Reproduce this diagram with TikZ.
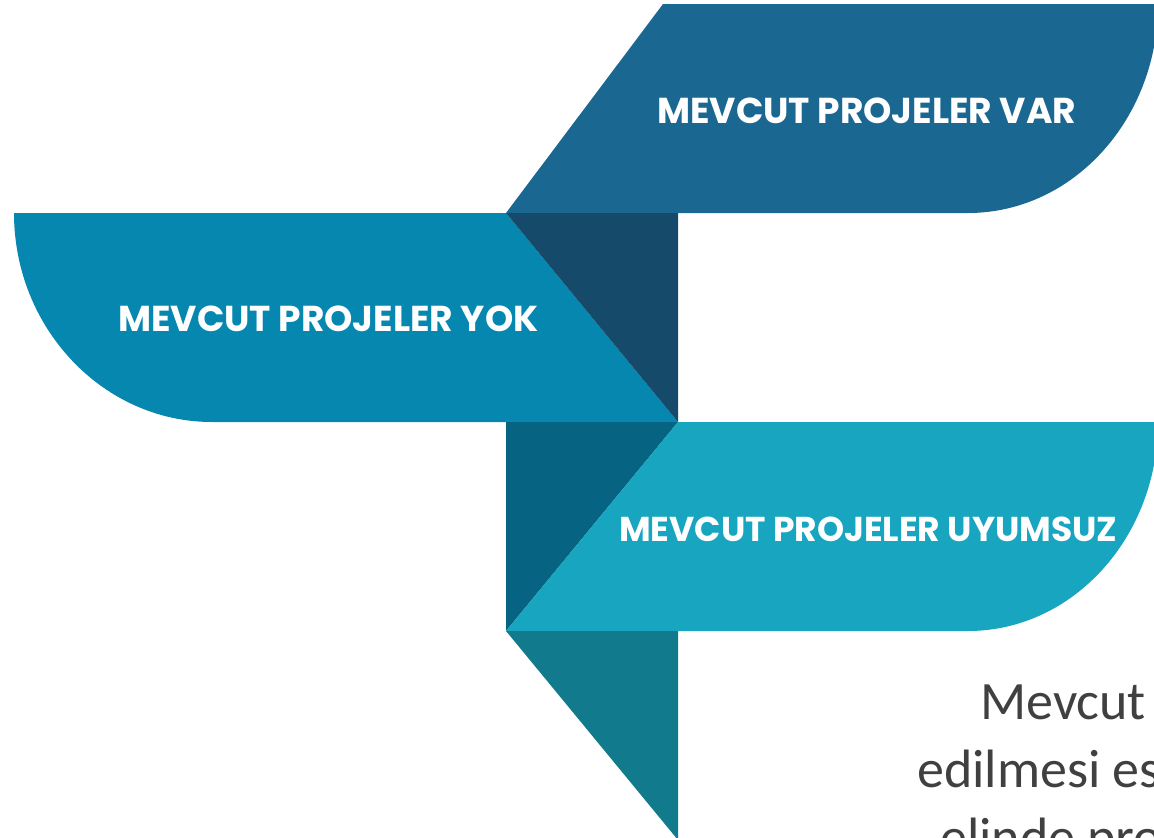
\documentclass[tikz,border=0pt]{standalone}
\usepackage{fontspec}
\setmainfont{Carlito}
\newfontfamily\bandfont{Poppins}
\definecolor{varblue}{HTML}{1A6892}
\definecolor{yokblue}{HTML}{0587B0}
\definecolor{navyfold}{HTML}{154A6B}
\definecolor{uyumblue}{HTML}{17A5C0}
\definecolor{deepfold}{HTML}{066482}
\definecolor{tealfold}{HTML}{127A8D}
\definecolor{bodygray}{HTML}{404040}

\begin{document}
\begin{tikzpicture}[x=1pt,y=-1pt,
    bandtext/.style={font=\bandfont\bfseries\fontsize{36}{40}\selectfont,text=white,anchor=base west,inner sep=0pt},
    bodytext/.style={font=\fontsize{54}{58}\selectfont,text=bodygray,anchor=base west,inner sep=0pt}]
  \useasboundingbox (0,0) rectangle (1154,838);
  \clip (0,0) rectangle (1154,838);
  \fill[varblue] (663,4) -- (1158,4) .. controls (1158,119) and (1073,213) .. (968,213) -- (506,213) -- cycle;
  \fill[yokblue] (14,213) -- (506,213) -- (678,422) -- (212,422) .. controls (103,422) and (14,328) .. (14,213) -- cycle;
  \fill[navyfold] (506,213) -- (678,213) -- (678,422) -- cycle;
  \fill[deepfold] (506,422) -- (678,422) -- (506,631) -- cycle;
  \fill[uyumblue] (678,422) -- (1158,422) .. controls (1158,537) and (1073,631) .. (968,631) -- (506,631) -- cycle;
  \fill[tealfold] (506,631) -- (678,631) -- (678,840) -- cycle;
  \node[bandtext] (var) at (657,123) {MEVCUT PROJELER VAR};
  \node[bandtext] (yok) at (118,331) {MEVCUT PROJELER YOK};
  \node[bandtext,font=\bandfont\bfseries\fontsize{34.5}{38}\selectfont] (uyum) at (619,541) {MEVCUT PROJELER UYUMSUZ};
  \node[bodytext] (line1) at (980,719) {Mevcut};
  \node[bodytext] (line2) at (917,787) {edilmesi es};
  \node[bodytext] (line3) at (940,855) {elinde pro};
\end{tikzpicture}
\end{document}
